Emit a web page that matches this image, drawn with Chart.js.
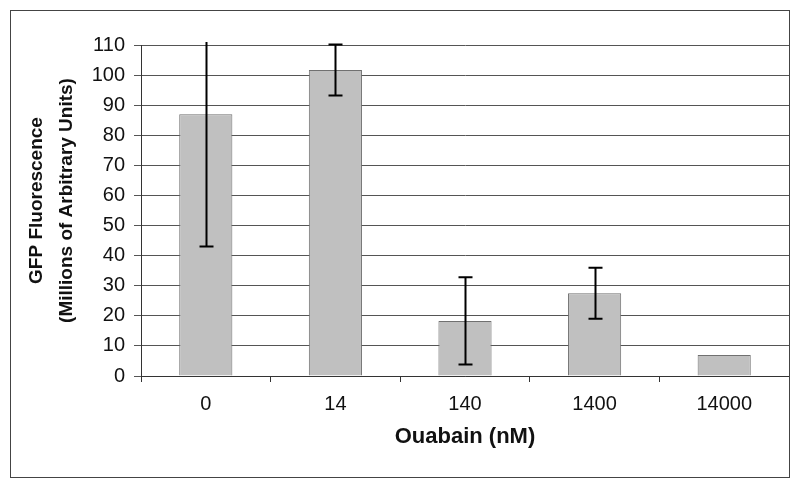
<!DOCTYPE html>
<html>
<head>
<meta charset="utf-8">
<script src="https://cdn.jsdelivr.net/npm/chart.js@4.4.1/dist/chart.umd.min.js"></script>
<style>
  html, body { margin: 0; padding: 0; background: #ffffff; }
  #wrap { width: 800px; height: 488px; position: relative; }
</style>
</head>
<body>
<div id="wrap"><canvas id="c" width="800" height="488"></canvas></div>
<script>
const categories = ['0', '14', '140', '1400', '14000'];
const fluorescence = [87, 101.7, 18.3, 27.5, 7.0];
const errorSize = [44, 8.5, 14.5, 8.5, null];
const yTicks = [0, 10, 20, 30, 40, 50, 60, 70, 80, 90, 100, 110];
const yTitleLines = ['GFP Fluorescence', '(Millions of Arbitrary Units)'];
const xTitle = 'Ouabain (nM)';

const FONT = 'Liberation Sans, Arial, sans-serif';

const frame = {
  id: 'frame',
  beforeDraw(chart) {
    const ctx = chart.ctx;
    ctx.save();
    ctx.fillStyle = '#ffffff';
    ctx.fillRect(0, 0, chart.width, chart.height);
    ctx.restore();
  },
  afterDraw(chart) {
    const ctx = chart.ctx;
    ctx.save();
    ctx.strokeStyle = '#444444';
    ctx.lineWidth = 1;
    ctx.strokeRect(10.5, 10.5, 779, 467);
    // y-axis title (two lines, rotated)
    const area = chart.chartArea;
    const cy = (area.top + area.bottom) / 2 - 10;
    ctx.fillStyle = '#111111';
    ctx.font = 'bold 19px ' + FONT;
    ctx.textAlign = 'center';
    ctx.textBaseline = 'middle';
    const xs = [37, 67];
    yTitleLines.forEach((t, i) => {
      ctx.save();
      ctx.translate(xs[i], cy);
      ctx.rotate(-Math.PI / 2);
      ctx.fillText(t, 0, 0);
      ctx.restore();
    });
    ctx.restore();
  }
};

const errorBars = {
  id: 'errorBars',
  afterDatasetsDraw(chart) {
    const ctx = chart.ctx;
    const meta = chart.getDatasetMeta(0);
    const y = chart.scales.y;
    const area = chart.chartArea;
    ctx.save();
    ctx.beginPath();
    ctx.rect(area.left, area.top - 3, area.right - area.left, area.bottom - area.top + 3);
    ctx.clip();
    ctx.strokeStyle = '#000000';
    ctx.lineWidth = 2;
    meta.data.forEach((bar, i) => {
      const e = errorSize[i];
      if (e === null || e === undefined) return;
      const v = fluorescence[i];
      const x = Math.round(bar.x) + 0.5;
      const yHi = y.getPixelForValue(v + e);
      const yLo = y.getPixelForValue(v - e);
      const cap = 7;
      ctx.beginPath();
      ctx.moveTo(x, yHi); ctx.lineTo(x, yLo);
      ctx.moveTo(x - cap, yHi); ctx.lineTo(x + cap, yHi);
      ctx.moveTo(x - cap, yLo); ctx.lineTo(x + cap, yLo);
      ctx.stroke();
    });
    ctx.restore();
  }
};

new Chart(document.getElementById('c'), {
  type: 'bar',
  data: {
    labels: categories,
    datasets: [{
      data: fluorescence,
      backgroundColor: '#c0c0c0',
      borderColor: '#707070',
      borderWidth: 1,
      categoryPercentage: 1.0,
      barPercentage: 0.41
    }]
  },
  options: {
    responsive: false,
    animation: false,
    devicePixelRatio: 1,
    layout: { padding: { left: 22, right: 11, top: 45, bottom: 10 } },
    plugins: { legend: { display: false }, tooltip: { enabled: false } },
    scales: {
      x: {
        grid: { drawOnChartArea: false, drawTicks: true, tickLength: 6, color: '#333333', offset: true },
        border: { display: true, color: '#333333', width: 1 },
        ticks: { color: '#111111', font: { family: FONT, size: 20 }, padding: 10, maxRotation: 0 },
        title: {
          display: true, text: xTitle, color: '#111111',
          font: { family: FONT, size: 22, weight: 'bold' },
          padding: { top: 0, bottom: 28 }
        },
        afterFit(scale) { scale.height = 102; }
      },
      y: {
        min: 0, max: 110,
        afterBuildTicks(scale) { scale.ticks = yTicks.map(v => ({ value: v })); },
        grid: { color: '#555555', lineWidth: 1, drawTicks: true, tickLength: 7 },
        border: { display: true, color: '#333333', width: 1 },
        ticks: { color: '#111111', font: { family: FONT, size: 20 }, padding: 9 },
        title: { display: false },
        afterFit(scale) { scale.width = 119; }
      }
    }
  },
  plugins: [frame, errorBars]
});
</script>
</body>
</html>
